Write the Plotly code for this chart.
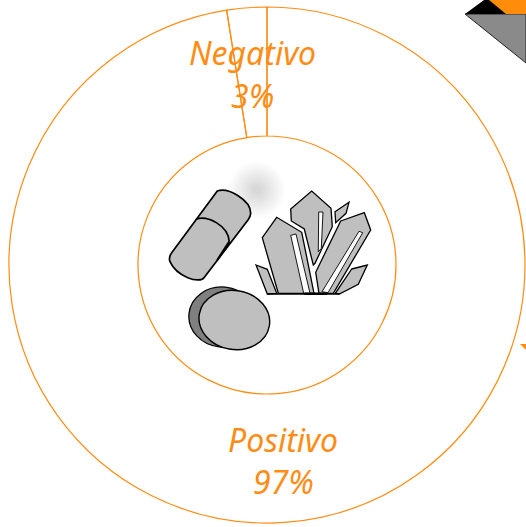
import math
import plotly.graph_objects as go

# --- data ---
categories = ["Negativo", "Positivo"]
drawn_share = [2.5, 97.5]
printed_percent = ["3%", "97%"]

ORANGE = "#FF8C14"
GREY = "#BFBFBF"
DARK = "#7F7F7F"


def cx_(v):  # crystal sketch coordinates to pixels
    return 250 + v / 3


def cy_(v):
    return 185 + v / 3


def kx(v):  # capsule sketch coordinates to pixels
    return 160 + v / 3


def ky(v):
    return 180 + v / 3


def poly(points):
    return "M " + " L ".join(f"{cx_(a):.1f},{cy_(b):.1f}" for a, b in points) + " Z"


def ellipse(cx, cy, rx, ry, rot):
    k = 0.5523
    c, s = math.cos(math.radians(rot)), math.sin(math.radians(rot))

    def p(u, v):
        return f"{cx + u * c - v * s:.2f},{cy + u * s + v * c:.2f}"

    return (f"M {p(rx, 0)} C {p(rx, k * ry)} {p(k * rx, ry)} {p(0, ry)} "
            f"C {p(-k * rx, ry)} {p(-rx, k * ry)} {p(-rx, 0)} "
            f"C {p(-rx, -k * ry)} {p(-k * rx, -ry)} {p(0, -ry)} "
            f"C {p(k * rx, -ry)} {p(rx, -k * ry)} {p(rx, 0)} Z")


def bez(cmds):
    out = []
    for cmd, pts in cmds:
        out.append(cmd + " " + " ".join(f"{kx(a):.1f},{ky(b):.1f}" for a, b in pts))
    return " ".join(out)


shapes = []


def add(path, fill=GREY, line="#000000", width=1.3):
    shapes.append(dict(type="path", path=path, xref="x", yref="y", layer="above",
                       fillcolor=fill, line=dict(color=line, width=width)))


def stroke(path, width=1.5, color="#000000"):
    shapes.append(dict(type="path", path=path, xref="x", yref="y", layer="above",
                       line=dict(color=color, width=width)))


# soft glow behind the capsule
for r in range(28, 2, -2):
    shapes.append(dict(type="circle", xref="x", yref="y", layer="above",
                       x0=257 - r, x1=257 + r, y0=190 - r, y1=190 + r,
                       fillcolor="rgba(120,120,120,0.022)", line=dict(width=0)))

# capsule
add(bez([("M", [(172, 33)]), ("C", [(205, 22), (272, 60), (272, 100)]),
         ("Q", [(272, 108), (264, 120)]), ("L", [(132, 293)]),
         ("C", [(118, 312), (50, 290), (30, 245)]), ("Q", [(25, 232), (35, 218)]), ("Z", [])]), width=1.7)
stroke(bez([("M", [(108, 118)]), ("C", [(140, 105), (205, 135), (208, 185)])]), 1.7)
stroke(bez([("M", [(208, 185)]), ("L", [(172, 240)])]), 2.2)

# tablets
add(ellipse(kx(187), ky(411), 33.5, 30, 6), fill=DARK, width=1.3)
add(ellipse(kx(223), ky(420), 35.5, 29.5, 10), width=1.4)

# crystals
add(poly([(122, 72), (185, 18), (243, 70), (247, 125), (195, 235), (190, 240), (163, 132), (124, 108)]))
add(poly([(255, 80), (297, 52), (288, 85), (257, 113)]))
add(poly([(37, 158), (80, 97), (155, 142), (180, 265), (192, 325), (85, 325)]))
add(poly([(272, 108), (343, 83), (362, 135), (250, 325), (207, 325), (197, 262)]))
add(poly([(18, 240), (52, 253), (80, 325), (52, 327)]))
add(poly([(305, 252), (352, 240), (325, 298), (268, 327), (256, 325)]))
add(poly([(122, 151), (138, 147), (180, 325), (161, 325)]), fill="#FFFFFF", width=0.9)
add(poly([(206, 81), (219, 81), (214, 190), (205, 200)]), fill="#FFFFFF", width=0.9)
add(poly([(327, 139), (338, 143), (234, 323), (216, 320)]), fill="#FFFFFF", width=0.9)
stroke(f"M {cx_(52):.1f},{cy_(327):.1f} L {cx_(268):.1f},{cy_(327):.1f}", 1.3)
stroke(f"M {cx_(163):.1f},{cy_(326):.1f} L {cx_(232):.1f},{cy_(326):.1f}", 2.5)

# corner decoration, top right, and the small wedge on the right edge
shapes.append(dict(type="path", xref="x", yref="y", layer="above",
                   path="M 465,14 L 526,14 L 526,63 Z", fillcolor="#8A8A8A",
                   line=dict(color="#222222", width=1)))
shapes.append(dict(type="path", xref="x", yref="y", layer="above",
                   path="M 486,0 L 526,0 L 526,14 L 506,14 Z", fillcolor="#FF8C0A", line=dict(width=0)))
shapes.append(dict(type="path", xref="x", yref="y", layer="above",
                   path="M 465,14 L 484,0 L 489,0 L 506,14 Z", fillcolor="#000000", line=dict(width=0)))
shapes.append(dict(type="path", xref="x", yref="y", layer="above",
                   path="M 520,344 L 526,344 L 526,350 Z", fillcolor="#FF8C0A", line=dict(width=0)))

fig = go.Figure(go.Pie(
    labels=categories, values=drawn_share, hole=0.5, sort=False,
    direction="clockwise", rotation=-9, textinfo="none", hoverinfo="skip",
    marker=dict(colors=["rgba(0,0,0,0)", "rgba(0,0,0,0)"], line=dict(color=ORANGE, width=1.2)),
    domain=dict(x=[9 / 526, 525 / 526], y=[1 - 523 / 527, 1 - 7 / 527]),
    showlegend=False,
))

text_centres = [(252, 52, 95), (283, 439, 481)]
annotations = []
for name, pct, (x, y1, y2) in zip(categories, printed_percent, text_centres):
    for txt, y in ((name, y1), (pct, y2)):
        annotations.append(dict(text=f"<i>{txt}</i>", x=x, y=y, xref="x", yref="y", showarrow=False,
                                xanchor="center", yanchor="middle",
                                font=dict(family="Noto Sans", size=32, color=ORANGE)))

fig.update_layout(
    width=526, height=527, margin=dict(l=0, r=0, t=0, b=0),
    paper_bgcolor="#FFFFFF", plot_bgcolor="rgba(0,0,0,0)",
    xaxis=dict(visible=False, range=[0, 526], domain=[0, 1], fixedrange=True),
    yaxis=dict(visible=False, range=[527, 0], domain=[0, 1], fixedrange=True),
    shapes=shapes, annotations=annotations,
)

fig.write_html("out.html", config=dict(displayModeBar=False),
               post_script="document.body.style.margin='0';document.documentElement.style.overflow='hidden';")
